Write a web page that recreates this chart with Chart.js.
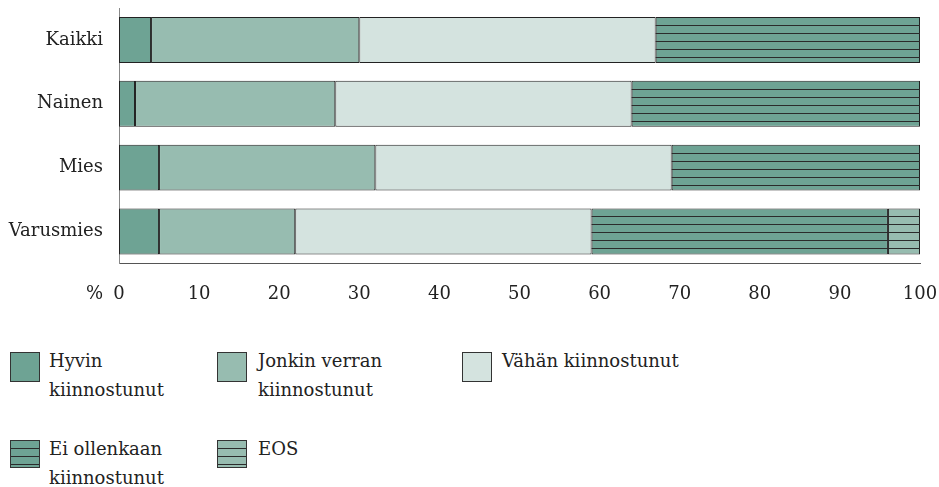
<!DOCTYPE html>
<html>
<head>
<meta charset="utf-8">
<script src="https://cdn.jsdelivr.net/npm/chart.js@4"></script>
<style>
    body { margin: 0; background: #fff; font-family: "DejaVu Serif", serif; color: #222; overflow: hidden; }
    #wrap { position: relative; width: 939px; height: 487px; overflow: hidden; }
    #chartBox { position: absolute; left: 0; top: 0; width: 939px; height: 325px; }
    .item { position: absolute; font-size: 18px; line-height: 29px; }
    .sw { position: absolute; left: 0; top: 0; width: 30px; height: 30px; border: 1px solid #333; box-sizing: border-box; }
    .txt { position: absolute; top: -6px; white-space: nowrap; }
</style>
</head>
<body>
<div id="wrap">
    <div id="chartBox"><canvas id="c"></canvas></div>
    <div id="legend"></div>
</div>
<script>
    var categories = ["Kaikki", "Nainen", "Mies", "Varusmies"];
    var seriesNames = ["Hyvin\nkiinnostunut", "Jonkin verran\nkiinnostunut", "Vähän kiinnostunut", "Ei ollenkaan\nkiinnostunut", "EOS"];
    var hyvin = [4, 2, 5, 5];
    var jonkin = [26, 25, 27, 17];
    var vahan = [37, 37, 37, 37];
    var eiOllenkaan = [33, 36, 31, 37];
    var eos = [0, 0, 0, 4];
    var xTicks = [0, 10, 20, 30, 40, 50, 60, 70, 80, 90, 100];

    var colors = ["#6ea394", "#97bcb0", "#d4e3df", "#6ea394", "#97bcb0"];
    var striped = [false, false, false, true, true];
    var values = [hyvin, jonkin, vahan, eiOllenkaan, eos];

    var fontFamily = '"DejaVu Serif", serif';
    var fontSize = 18;

    // horizontal stripes drawn inside each bar of the striped series
    var stripePlugin = {
        id: "stripes",
        afterDatasetsDraw: function (chart) {
            var ctx = chart.ctx;
            chart.data.datasets.forEach(function (ds, i) {
                if (!ds.striped) return;
                chart.getDatasetMeta(i).data.forEach(function (bar) {
                    var p = bar.getProps(["x", "y", "base", "height"], true);
                    var left = Math.min(p.x, p.base), right = Math.max(p.x, p.base);
                    if (right - left < 1) return;
                    var top = p.y - p.height / 2, bottom = p.y + p.height / 2;
                    ctx.save();
                    ctx.strokeStyle = "#2b2b2b";
                    ctx.lineWidth = 1;
                    ctx.beginPath();
                    for (var y = top + 8; y < bottom - 2; y += 8) {
                        ctx.moveTo(left, Math.round(y) + 0.5);
                        ctx.lineTo(right, Math.round(y) + 0.5);
                    }
                    ctx.stroke();
                    ctx.restore();
                });
            });
        }
    };

    // "%" before the zero tick
    var percentPlugin = {
        id: "percent",
        afterDraw: function (chart) {
            var ctx = chart.ctx, sx = chart.scales.x;
            ctx.save();
            ctx.font = fontSize + "px " + fontFamily;
            ctx.fillStyle = "#222";
            ctx.textAlign = "right";
            ctx.textBaseline = "middle";
            ctx.fillText("%", sx.getPixelForValue(0) - 16, sx.top + 31);
            ctx.restore();
        }
    };

    var datasets = values.map(function (v, i) {
        return {
            label: seriesNames[i],
            data: v,
            backgroundColor: colors[i],
            borderColor: "#222",
            borderWidth: 1,
            borderSkipped: false,
            striped: striped[i],
            barPercentage: 0.72,
            categoryPercentage: 1
        };
    });

    new Chart(document.getElementById("c"), {
        type: "bar",
        data: { labels: categories, datasets: datasets },
        options: {
            indexAxis: "y",
            responsive: true,
            maintainAspectRatio: false,
            animation: false,
            layout: { padding: { top: 8, right: 0, left: 0, bottom: 0 } },
            plugins: { legend: { display: false }, tooltip: { enabled: false } },
            scales: {
                x: {
                    stacked: true,
                    min: 0,
                    max: 100,
                    afterBuildTicks: function (s) { s.ticks = xTicks.map(function (v) { return { value: v }; }); },
                    afterFit: function (s) { s.paddingRight = 19; s.paddingLeft = 0; },
                    grid: { display: false, drawTicks: false },
                    border: { display: true, color: "#555", width: 1 },
                    ticks: { color: "#222", padding: 20, font: { family: fontFamily, size: fontSize }, maxRotation: 0 }
                },
                y: {
                    stacked: true,
                    afterFit: function (s) { s.width = 119; s.paddingTop = 0; s.paddingBottom = 0; },
                    grid: { display: false, drawTicks: false },
                    border: { display: true, color: "#888", width: 1 },
                    ticks: { color: "#222", padding: 16, font: { family: fontFamily, size: fontSize } }
                }
            }
        },
        plugins: [stripePlugin, percentPlugin]
    });

    // legend laid out in columns and rows below the chart
    var legendPos = [[10, 352, 39], [217, 352, 41], [462, 352, 40], [10, 440, 39], [217, 440, 41]];
    var legend = document.getElementById("legend");
    seriesNames.forEach(function (name, i) {
        var item = document.createElement("div");
        item.className = "item";
        item.style.left = legendPos[i][0] + "px";
        item.style.top = legendPos[i][1] + "px";
        var sw = document.createElement("div");
        sw.className = "sw";
        sw.style.background = striped[i]
            ? "repeating-linear-gradient(to bottom, " + colors[i] + " 0px, " + colors[i] + " 7px, #2b2b2b 7px, #2b2b2b 8px)"
            : colors[i];
        if (striped[i]) sw.style.height = "28px";
        var txt = document.createElement("div");
        txt.className = "txt";
        txt.style.left = legendPos[i][2] + "px";
        txt.innerHTML = name.replace("\n", "<br>");
        item.appendChild(sw);
        item.appendChild(txt);
        legend.appendChild(item);
    });
</script>
</body>
</html>
